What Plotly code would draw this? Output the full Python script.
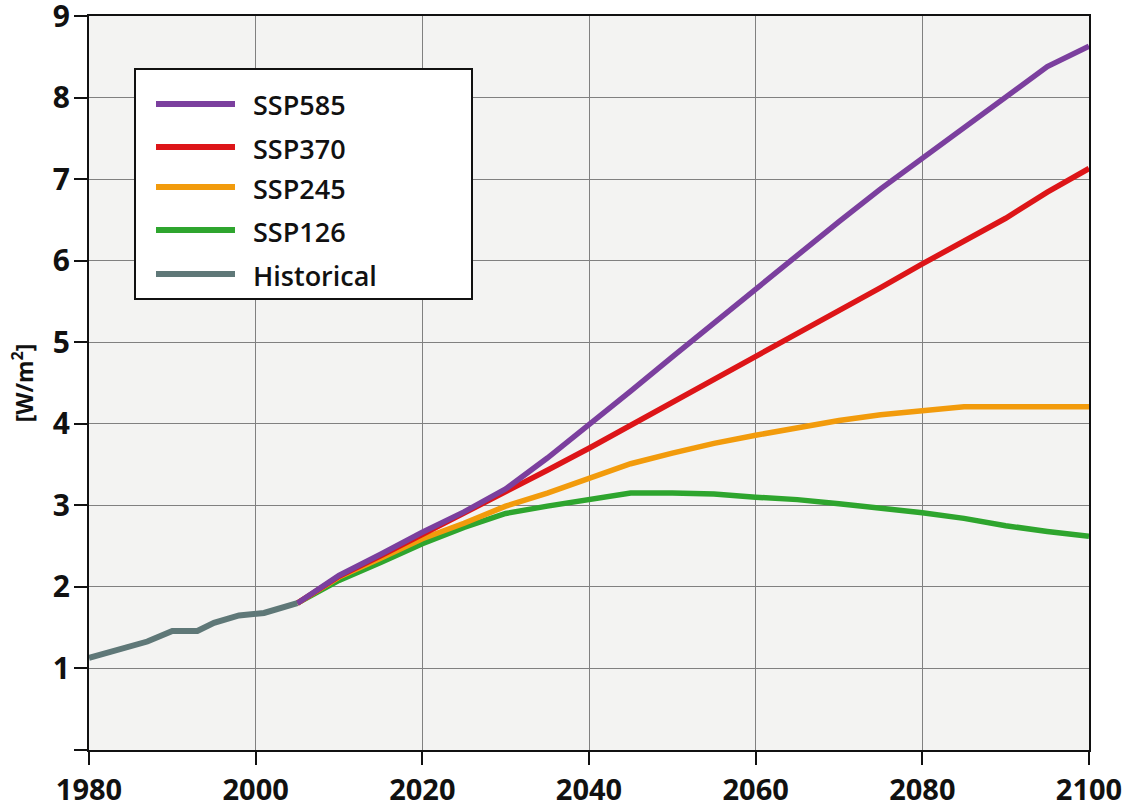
import plotly.graph_objects as go

# ---------------- data ----------------
hist_years = [1980, 1983, 1987, 1990, 1993, 1995, 1998, 2001, 2005]
hist_vals = [1.13, 1.22, 1.33, 1.46, 1.46, 1.56, 1.65, 1.68, 1.80]

ssp_years = [2005, 2010, 2015, 2020, 2025, 2030, 2035, 2040, 2045, 2050,
             2055, 2060, 2065, 2070, 2075, 2080, 2085, 2090, 2095, 2100]
ssp585 = [1.80, 2.14, 2.40, 2.67, 2.92, 3.20, 3.58, 3.98, 4.40, 4.82,
          5.24, 5.65, 6.07, 6.48, 6.88, 7.25, 7.63, 8.01, 8.38, 8.63]
ssp370 = [1.80, 2.13, 2.38, 2.64, 2.90, 3.16, 3.43, 3.70, 3.98, 4.26,
          4.55, 4.83, 5.11, 5.39, 5.67, 5.96, 6.24, 6.52, 6.84, 7.13]
ssp245 = [1.80, 2.12, 2.35, 2.59, 2.78, 2.99, 3.15, 3.33, 3.51, 3.64,
          3.76, 3.86, 3.95, 4.04, 4.11, 4.16, 4.21, 4.21, 4.21, 4.21]
ssp126 = [1.80, 2.08, 2.30, 2.53, 2.73, 2.90, 2.99, 3.07, 3.15, 3.15,
          3.14, 3.10, 3.07, 3.02, 2.97, 2.91, 2.84, 2.75, 2.68, 2.62]

series_names = ["SSP585", "SSP370", "SSP245", "SSP126", "Historical"]
series_colors = ["#7b3f9e", "#dd1518", "#f29b0c", "#2ea52e", "#5f7878"]

x_ticks = [1980, 2000, 2020, 2040, 2060, 2080, 2100]
x_tick_labels = ["1980", "2000", "2020", "2040", "2060", "2080", "2100"]
y_ticks = [0, 1, 2, 3, 4, 5, 6, 7, 8, 9]
y_tick_labels = ["", "1", "2", "3", "4", "5", "6", "7", "8", "9"]

# ---------------- figure ----------------
fig = go.Figure()
scen = [ssp126, ssp245, ssp370, ssp585]
scen_idx = [3, 2, 1, 0]
for vals, i in zip(scen, scen_idx):
    fig.add_trace(go.Scatter(x=ssp_years, y=vals, mode="lines", name=series_names[i],
                             line=dict(color=series_colors[i], width=5.5),
                             showlegend=False))
fig.add_trace(go.Scatter(x=hist_years, y=hist_vals, mode="lines", name=series_names[4],
                         line=dict(color=series_colors[4], width=6),
                         showlegend=False))

# body margin is removed in the page (post_script), so figure == window
FW, FH = 1132, 808
L, R, T, B = 89, 1089, 16, 750   # plot area in screen pixels


def px(xp):
    return (xp - L) / (R - L)


def py(yp):
    return (B - yp) / (B - T)


shapes = [dict(type="rect", xref="paper", yref="paper",
               x0=px(135), x1=px(472), y0=py(299), y1=py(69),
               line=dict(color="#111111", width=2), fillcolor="white", layer="above")]
annotations = []
item_y = [104, 147, 187, 230, 274]
for name, col, yy in zip(series_names, series_colors, item_y):
    shapes.append(dict(type="line", xref="paper", yref="paper",
                       x0=px(156), x1=px(235), y0=py(yy), y1=py(yy),
                       line=dict(color=col, width=6), layer="above"))
    annotations.append(dict(xref="paper", yref="paper", x=px(251), y=py(yy + 1),
                            text=name, showarrow=False, xanchor="left", yanchor="middle",
                            font=dict(family="Open Sans", size=27, color="#111111", weight=600)))

fig.update_layout(
    width=FW, height=FH,
    margin=dict(l=L, r=FW - R, t=T, b=FH - B, pad=0, autoexpand=False),
    paper_bgcolor="white", plot_bgcolor="#f3f3f2",
    shapes=shapes, annotations=annotations,
    font=dict(family="Open Sans", color="#111111"),
)
fig.update_xaxes(range=[1980, 2100], tickvals=x_ticks, ticktext=x_tick_labels,
                 automargin=False, ticklabeloverflow="allow",
                 showgrid=True, gridcolor="#808080", gridwidth=1.3,
                 showline=True, linecolor="#111111", linewidth=2, mirror=True,
                 ticks="outside", ticklen=13, tickwidth=2, tickcolor="#111111",
                 ticklabelstandoff=0,
                 tickfont=dict(family="Open Sans", size=29, color="#111111", weight="bold"),
                 zeroline=False)
fig.update_yaxes(range=[0, 9], tickvals=y_ticks, ticktext=y_tick_labels,
                 automargin=False, ticklabeloverflow="allow",
                 showgrid=True, gridcolor="#808080", gridwidth=1.3,
                 showline=True, linecolor="#111111", linewidth=2, mirror=True,
                 ticks="outside", ticklen=13, tickwidth=2, tickcolor="#111111",
                 ticklabelstandoff=-2,
                 tickfont=dict(family="Open Sans", size=30, color="#111111", weight="bold"),
                 title=dict(text="[W/m<sup>2</sup>]", standoff=13,
                            font=dict(family="Open Sans", size=23, color="#111111", weight="bold")),
                 zeroline=False)

fig.write_html("out.html", config={"displayModeBar": False},
               post_script="document.body.style.margin='0';document.body.style.overflow='hidden';")
